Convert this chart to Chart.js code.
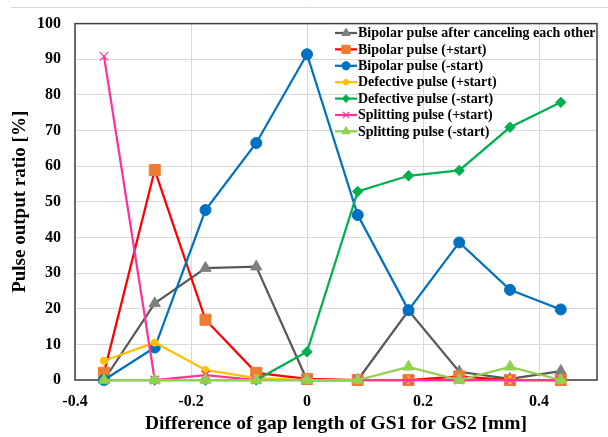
<!DOCTYPE html>
<html>
<head>
<meta charset="utf-8">
<script src="https://cdn.jsdelivr.net/npm/chart.js"></script>
<style>
  html, body { margin: 0; padding: 0; background: #fff; }
  #wrap { position: relative; width: 608px; height: 437px; }
</style>
</head>
<body>
<div id="wrap"><canvas id="chart" width="608" height="437"></canvas></div>
<script>
// Data
const gapDiff = [-0.35, -0.2625, -0.175, -0.0875, 0, 0.0875, 0.175, 0.2625, 0.35, 0.4375];
const bipolarCancel = [0, 21.5, 31.4, 31.8, 0, 0, 19.5, 2.3, 0.3, 2.5];
const bipolarPlus = [2.0, 58.9, 16.9, 2.0, 0.3, 0, 0, 1.0, 0, 0];
const bipolarMinus = [0, 9.1, 47.7, 66.5, 91.4, 46.3, 19.6, 38.6, 25.3, 19.8];
const defectivePlus = [5.4, 10.5, 2.8, 0.5, 0, 0, 0, 0, 0, 0];
const defectiveMinus = [0, 0, 0, 0, 7.9, 52.9, 57.3, 58.8, 70.9, 77.9];
const splittingPlus = [90.8, 0, 1.4, 0, 0, 0, 0, 0, 0, 0];
const splittingMinus = [0, 0, 0, 0, 0, 0, 3.7, 0, 3.7, 0];

const seriesNames = [
    'Bipolar pulse after canceling each other',
    'Bipolar pulse (+start)',
    'Bipolar pulse (-start)',
    'Defective pulse (+start)',
    'Defective pulse (-start)',
    'Splitting pulse (+start)',
    'Splitting pulse (-start)'
];
const xTicks = [-0.4, -0.2, 0, 0.2, 0.4];

const FONT = "'Liberation Serif', 'Times New Roman', serif";

function pts(values) {
    return values.map((v, i) => ({ x: gapDiff[i], y: v }));
}

function makeSet(idx, values, line, marker, style, radius, pbw) {
    return {
        label: seriesNames[idx],
        data: pts(values),
        borderColor: line,
        backgroundColor: marker,
        pointBackgroundColor: marker,
        pointBorderColor: marker,
        pointBorderWidth: pbw || 1,
        pointStyle: style,
        pointRadius: radius,
        pointHoverRadius: radius,
        borderWidth: 2.25,
        tension: 0,
        clip: false,
        order: 10 - idx
    };
}

const datasets = [
    makeSet(0, bipolarCancel, '#595959', '#7f7f7f', 'triangle', 6.5),
    makeSet(1, bipolarPlus, '#ff0000', '#ed7d31', 'rect', 7.8),
    makeSet(2, bipolarMinus, '#0070c0', '#0070c0', 'circle', 5.5),
    makeSet(3, defectivePlus, '#ffc000', '#ffc000', 'circle', 3.6),
    makeSet(4, defectiveMinus, '#00b050', '#00b050', 'rectRot', 5.2),
    makeSet(5, splittingPlus, '#ff3399', '#ff3399', 'crossRot', 6, 1.2),
    makeSet(6, splittingMinus, '#92d050', '#92d050', 'triangle', 6.5)
];

// plot frame, outer line and legend drawn inside the plot area
const framePlugin = {
    id: 'frame',
    beforeDraw(chart) {
        const ctx = chart.ctx;
        ctx.save();
        ctx.strokeStyle = '#d9d9d9';
        ctx.lineWidth = 1;
        ctx.beginPath();
        ctx.moveTo(11, 7.5);
        ctx.lineTo(608, 7.5);
        ctx.stroke();
        ctx.restore();
    },
    beforeDatasetsDraw(chart) {
        const a = chart.chartArea;
        const ctx = chart.ctx;
        ctx.save();
        ctx.strokeStyle = '#404040';
        ctx.lineWidth = 1.5;
        ctx.strokeRect(a.left, a.top, a.right - a.left, a.bottom - a.top);
        ctx.restore();
    },
    afterDraw(chart) {
        const ctx = chart.ctx;
        const x0 = 335, x1 = 357, textX = 358;
        const y0 = 33, dy = 16.4;
        ctx.save();
        ctx.font = 'bold 14px ' + FONT;
        ctx.textBaseline = 'middle';
        ctx.fillStyle = '#000';
        chart.data.datasets.forEach((ds, i) => {
            const y = y0 + i * dy;
            ctx.strokeStyle = ds.borderColor;
            ctx.lineWidth = 2.25;
            ctx.beginPath();
            ctx.moveTo(x0, y);
            ctx.lineTo(x1, y);
            ctx.stroke();
            ctx.fillStyle = ds.pointBackgroundColor;
            ctx.strokeStyle = ds.pointBorderColor;
            ctx.lineWidth = ds.pointBorderWidth;
            if (Chart.helpers && Chart.helpers.drawPoint) {
                Chart.helpers.drawPoint(ctx, {
                    pointStyle: ds.pointStyle,
                    radius: ds.pointRadius * 0.75,
                    rotation: 0,
                    borderWidth: ds.pointBorderWidth
                }, (x0 + x1) / 2, y);
            }
            ctx.fillStyle = '#000';
            ctx.fillText(ds.label, textX, y + 0.5);
        });
        ctx.restore();
    }
};

new Chart(document.getElementById('chart').getContext('2d'), {
    type: 'line',
    data: { datasets: datasets },
    options: {
        responsive: false,
        animation: false,
        events: [],
        layout: { padding: { top: 22, right: 11, left: 0, bottom: 0 } },
        plugins: {
            legend: { display: false },
            tooltip: { enabled: false }
        },
        scales: {
            x: {
                type: 'linear',
                min: -0.4,
                max: 0.5,
                afterBuildTicks: s => { s.ticks = xTicks.map(v => ({ value: v })); },
                afterFit: s => { s.height = 57; },
                grid: { color: '#d9d9d9', lineWidth: 1, drawTicks: false },
                border: { display: false },
                ticks: {
                    padding: 12,
                    color: '#000',
                    font: { family: FONT, size: 16, weight: 'bold' },
                    callback: v => String(Math.round(v * 10) / 10)
                },
                title: {
                    display: true,
                    text: 'Difference of gap length of GS1 for GS2 [mm]',
                    color: '#000',
                    font: { family: FONT, size: 19.5, weight: 'bold' },
                    padding: { top: 0, bottom: 1 }
                }
            },
            y: {
                min: 0,
                max: 100,
                afterFit: s => { s.width = 75; },
                grid: { color: '#d9d9d9', lineWidth: 1, drawTicks: false },
                border: { display: false },
                ticks: {
                    stepSize: 10,
                    padding: 14,
                    color: '#000',
                    font: { family: FONT, size: 16, weight: 'bold' }
                },
                title: {
                    display: true,
                    text: 'Pulse output ratio [%]',
                    color: '#000',
                    font: { family: FONT, size: 19, weight: 'bold' },
                    padding: { top: 9, bottom: 0 }
                }
            }
        }
    },
    plugins: [framePlugin]
});
</script>
</body>
</html>
